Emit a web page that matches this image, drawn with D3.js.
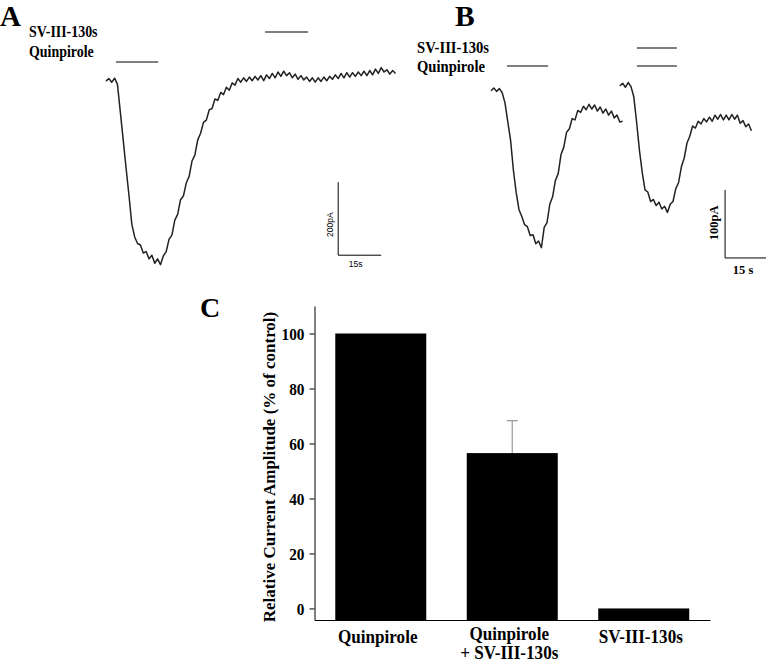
<!DOCTYPE html>
<html>
<head>
<meta charset="utf-8">
<script src="https://cdn.jsdelivr.net/npm/d3@7"></script>
<style>
  body { margin: 0; background: #fff; }
  svg { display: block; }
</style>
</head>
<body>
<svg id="fig" width="766" height="663"></svg>
<script>
// ---- panel A : whole-cell current, sampled every 1 s (pA)
const traceA = [
  -3, 4, -6, 5, -12, -88, -164, -241, -315, -395,
  -430, -448, -452, -474, -470, -490, -480, -502, -490, -506,
  -482, -470, -436, -425, -384, -368, -328, -318, -282, -264,
  -222, -206, -164, -146, -116, -110, -82, -78, -52, -56,
  -34, -40, -20, -28, -8, -14, 4, -6, 6, -4,
  8, -2, 10, 0, 12, -2, 14, 4, 18, 6,
  22, 10, 24, 12, 20, 6, 16, 2, 12, 0,
  8, -4, 6, -6, 6, -4, 8, -2, 10, 2,
  14, 4, 18, 6, 20, 8, 20, 10, 22, 12,
  24, 12, 26, 14, 30, 18, 34, 22, 28, 16, 26, 18
];
const drugsA = [
  {name: "SV-III-130s", on: [[55.5, 70.5]]},
  {name: "Quinpirole", on: [[3.5, 18.2]]}
];
const scaleBarA = {t: 81, pA: -480, dt: 15, dpA: 200, tLabel: "15s", pLabel: "200pA"};

// ---- panel B : two applications, sampled every 1 s (pA)
const traceB1 = [
  -1, 3, -2, 2, -4, -19, -47, -74, -118, -151,
  -176, -186, -198, -201, -214, -213, -226, -222, -232, -202,
  -195, -168, -157, -133, -123, -95, -84, -62, -57, -42,
  -44, -30, -33, -24, -29, -21, -28, -22, -31, -25,
  -34, -28, -37, -31, -41, -37, -47, -46
];
const traceB2Start = 46;
const traceB2 = [
  6, 10, 4, 11, 5, -10, -47, -88, -121, -147,
  -150, -164, -161, -170, -165, -175, -171, -180, -168, -164,
  -145, -136, -113, -100, -78, -68, -53, -56, -46, -50,
  -42, -47, -40, -46, -37, -43, -36, -44, -37, -44,
  -36, -43, -37, -49, -45, -54, -50, -60
];
const drugsB = [
  {name: "SV-III-130s", on: [[52.1, 66.4]]},
  {name: "Quinpirole", on: [[5.7, 20.4], [52.1, 66.4]]}
];
const scaleBarB = {t: 83.6, pA: -247, dt: 15, dpA: 100, tLabel: "15 s", pLabel: "100pA"};

// ---- panel C : summary
const categories = ["Quinpirole", "Quinpirole\n+ SV-III-130s", "SV-III-130s"];
const amplitude = [100, 56.5, 0];
const amplitudeErr = [0, 11.8, 0];
const yTicks = [0, 20, 40, 60, 80, 100];

const serif = "'Liberation Serif', 'Times New Roman', serif";
const sans = "'Liberation Sans', Arial, sans-serif";
const svg = d3.select("#fig");

// bold serif text, slightly condensed like the original
function label(x, y, str, size, sx = 1, anchor = "start", rot = 0) {
  return svg.append("text")
    .attr("transform", `translate(${x},${y}) rotate(${rot}) scale(${sx},1)`)
    .attr("text-anchor", anchor)
    .style("font-family", serif)
    .style("font-weight", "bold")
    .style("font-size", size + "px")
    .text(str);
}

function drawTrace(data, x, y, start = 0) {
  const line = d3.line()
    .x((d, i) => x(start + i))
    .y(d => y(d));
  svg.append("path")
    .attr("d", line(data))
    .attr("fill", "none")
    .attr("stroke", "#222")
    .attr("stroke-width", 1.5)
    .attr("stroke-linejoin", "round");
}

function drawDrugs(drugs, x, rows) {
  drugs.forEach((dg, k) => {
    dg.on.forEach(([a, b]) => {
      svg.append("line")
        .attr("x1", x(a)).attr("x2", x(b))
        .attr("y1", rows[k]).attr("y2", rows[k])
        .attr("stroke", "#000").attr("stroke-width", 1.2);
    });
  });
}

function drawScaleBar(sb, x, y) {
  const x0 = x(sb.t), x1 = x(sb.t + sb.dt);
  const y0 = y(sb.pA), y1 = y(sb.pA + sb.dpA);
  svg.append("path")
    .attr("d", `M${x0},${y1}V${y0}H${x1}`)
    .attr("fill", "none")
    .attr("stroke", "#000")
    .attr("stroke-width", 1);
  return {x0, x1, y0, y1};
}

// ---------- A
const xA = d3.scaleLinear([0, 15], [106, 149]);
const yA = d3.scaleLinear([0, -200], [80, 153]);

label(0, 26, "A", 29);
label(29, 37, drugsA[0].name, 16, 0.87);
label(29, 57, drugsA[1].name, 16, 0.87);
drawDrugs(drugsA, xA, [32, 62]);
drawTrace(traceA, xA, yA);
const sbA = drawScaleBar(scaleBarA, xA, yA);
svg.append("text")
  .attr("transform", `translate(${sbA.x0 - 5},${(sbA.y0 + sbA.y1) / 2 + 6}) rotate(-90)`)
  .attr("text-anchor", "middle")
  .style("font-family", sans).style("font-size", "8.5px")
  .text(scaleBarA.pLabel);
svg.append("text")
  .attr("x", (sbA.x0 + sbA.x1) / 2 - 4).attr("y", sbA.y0 + 12)
  .attr("text-anchor", "middle")
  .style("font-family", sans).style("font-size", "8.5px")
  .text(scaleBarA.tLabel);

// ---------- B
const xB = d3.scaleLinear([0, 15], [491, 533]);
const yB = d3.scaleLinear([0, -100], [90, 158]);

label(455, 25.5, "B", 29.5);
label(417, 53, drugsB[0].name, 17, 0.86);
label(417, 72, drugsB[1].name, 17, 0.86);
drawDrugs(drugsB, xB, [48, 66]);
drawTrace(traceB1, xB, yB);
drawTrace(traceB2, xB, yB, traceB2Start);
const sbB = drawScaleBar(scaleBarB, xB, yB);
label(sbB.x0 - 7, (sbB.y0 + sbB.y1) / 2 - 1, scaleBarB.pLabel, 12.5, 1, "middle", -90);
label((sbB.x0 + sbB.x1) / 2 - 3, sbB.y0 + 16, scaleBarB.tLabel, 12.5, 1, "middle");

// ---------- C
const cLeft = 314.5, cRight = 710, cTop = 306, cBottom = 620;
const y = d3.scaleLinear([-4.2, 110], [cBottom, cTop]);
const x = d3.scaleBand(categories, [cLeft, cRight]).paddingInner(0.308).paddingOuter(0.158);

label(200, 317, "C", 28);

svg.selectAll("rect.bar")
  .data(amplitude)
  .join("rect")
  .attr("class", "bar")
  .attr("x", (d, i) => x(categories[i]))
  .attr("width", x.bandwidth())
  .attr("y", d => y(d))
  .attr("height", d => cBottom - y(d))
  .attr("fill", "#000");

// error bar (upper only)
amplitude.forEach((v, i) => {
  if (!amplitudeErr[i]) return;
  const cx = x(categories[i]) + x.bandwidth() / 2;
  svg.append("path")
    .attr("d", `M${cx},${y(v)}V${y(v + amplitudeErr[i])}M${cx - 5.5},${y(v + amplitudeErr[i])}H${cx + 5.5}`)
    .attr("stroke", "#999")
    .attr("stroke-width", 1.2)
    .attr("fill", "none");
});

const gy = svg.append("g").attr("transform", `translate(${cLeft},0)`)
  .call(d3.axisLeft(y).tickValues(yTicks).tickSize(5).tickSizeOuter(0));
gy.select(".domain").attr("stroke", "#000");
gy.selectAll(".tick line").attr("stroke", "#000");
gy.selectAll(".tick text")
  .attr("x", 0).attr("dy", "0.36em")
  .attr("transform", "translate(-10,0) scale(0.9,1)")
  .style("font-family", serif)
  .style("font-weight", "bold")
  .style("font-size", "17px")
  .attr("fill", "#000");

const gx = svg.append("g").attr("transform", `translate(0,${cBottom})`)
  .call(d3.axisBottom(x).tickSize(0).tickSizeOuter(0).tickFormat(""));
gx.select(".domain").attr("stroke", "#000");

categories.forEach(c => {
  const cx = x(c) + x.bandwidth() / 2;
  const lines = c.split("\n");
  const y0 = lines.length > 1 ? 640 : 643;
  lines.forEach((s, k) => label(cx - 3, y0 + k * 19, s, 19, 0.9, "middle"));
});

label(275, (cTop + cBottom) / 2 + 4, "Relative Current Amplitude (% of control)", 17, 1, "middle", -90);
</script>
</body>
</html>
